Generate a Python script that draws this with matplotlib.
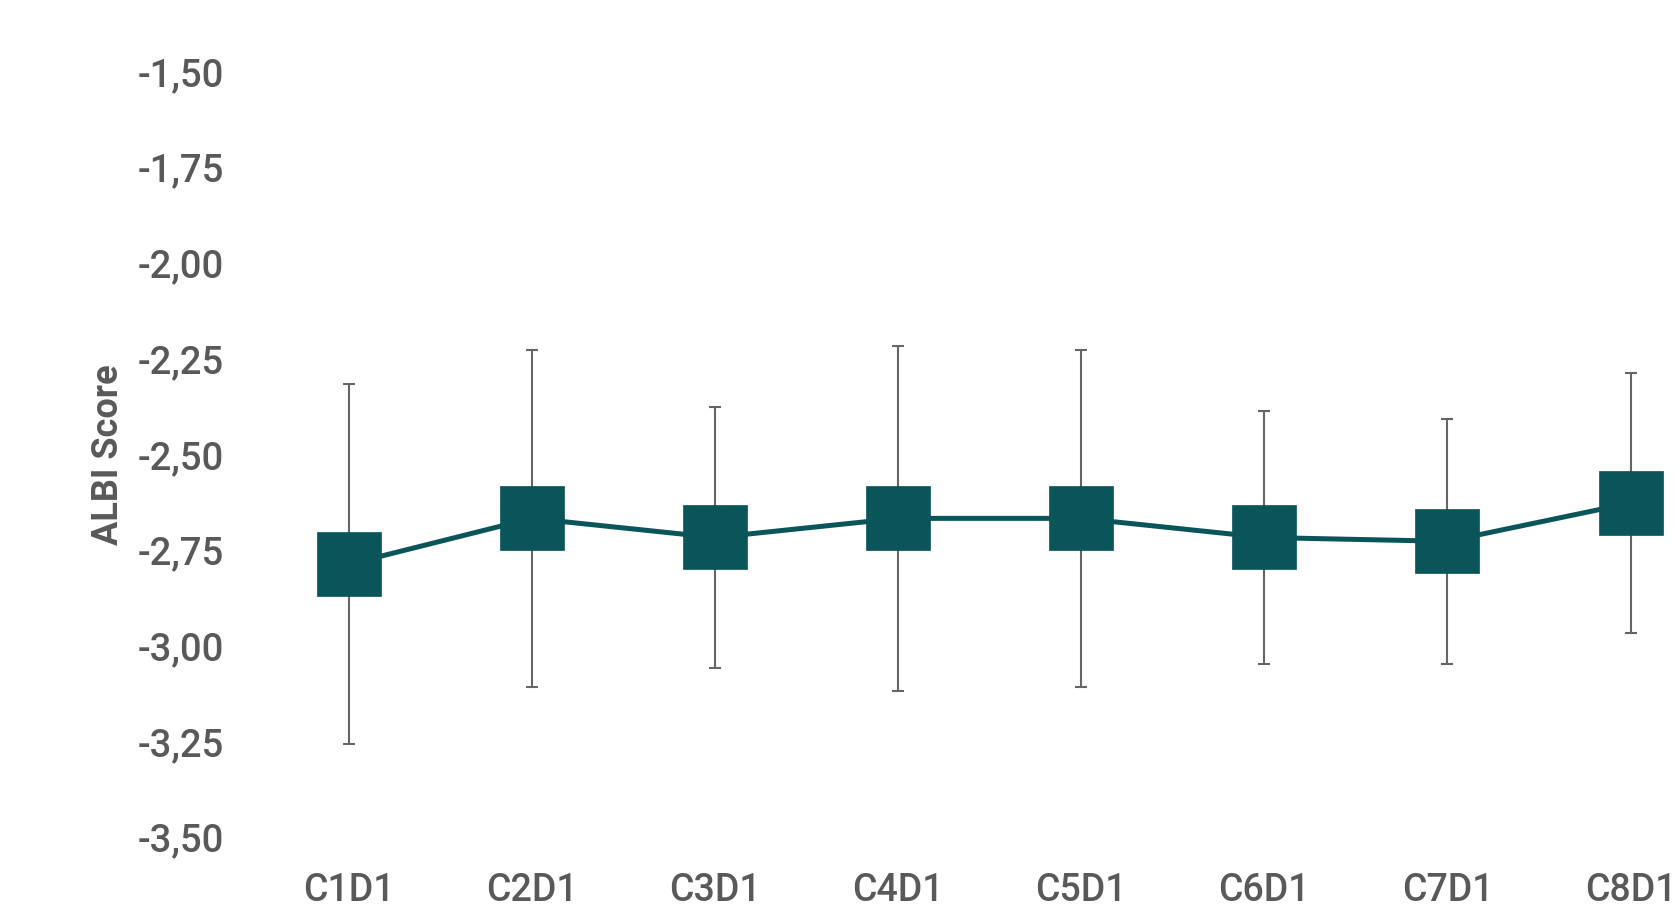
import matplotlib.pyplot as plt
import numpy as np

# ALBI score po cykloch (priemer a smerodajná odchýlka)
cykly = ['C1D1', 'C2D1', 'C3D1', 'C4D1', 'C5D1', 'C6D1', 'C7D1', 'C8D1']
albi = [-2.79, -2.67, -2.72, -2.67, -2.67, -2.72, -2.73, -2.63]
sd = [0.47, 0.44, 0.34, 0.45, 0.44, 0.33, 0.32, 0.34]
y_ticky = [-3.50, -3.25, -3.00, -2.75, -2.50, -2.25, -2.00, -1.75, -1.50]

farba = '#0a555a'
seda = '#595959'
plt.rcParams['font.family'] = ['Roboto', 'DejaVu Sans']

fig = plt.figure(figsize=(16.76, 9.2), dpi=100)
ax = fig.add_axes([0.1534, 0.0902, 0.8741, 0.832])

x = np.arange(len(cykly))

# chybové úsečky pod čiarou a značkami
ax.errorbar(x, albi, yerr=sd, fmt='none', ecolor='#666666', elinewidth=1.5,
            capsize=4.3, capthick=1.5, zorder=1)
ax.plot(x, albi, color=farba, linewidth=3.6, marker='s', markersize=46.5,
        markerfacecolor=farba, markeredgecolor=farba, markeredgewidth=0.5,
        zorder=2, clip_on=False)

ax.set_xlim(-0.5, len(cykly) - 0.5)
ax.set_ylim(-3.5, -1.5)
ax.set_xticks(x)
ax.set_xticklabels(cykly)
ax.set_yticks(y_ticky)
ax.set_yticklabels([f'{t:.2f}'.replace('.', ',') for t in y_ticky])

ax.tick_params(axis='both', length=0, colors=seda)
ax.tick_params(axis='y', pad=24, labelsize=27.5)
ax.tick_params(axis='x', pad=25, labelsize=27)
for lab in ax.get_xticklabels() + ax.get_yticklabels():
    lab.set_fontweight('medium')

ax.set_ylabel('ALBI Score', fontsize=26, color=seda, fontweight='bold', labelpad=8)

for s in ax.spines.values():
    s.set_visible(False)

fig.savefig('out.png', dpi=100)
